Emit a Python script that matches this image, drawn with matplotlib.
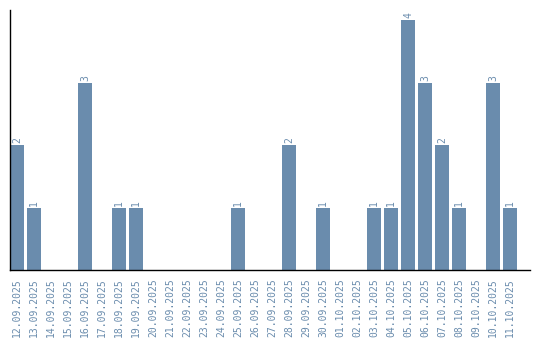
import matplotlib
matplotlib.use("Agg")
import matplotlib.pyplot as plt

dates = ["12.09.2025", "13.09.2025", "14.09.2025", "15.09.2025", "16.09.2025",
         "17.09.2025", "18.09.2025", "19.09.2025", "20.09.2025", "21.09.2025",
         "22.09.2025", "23.09.2025", "24.09.2025", "25.09.2025", "26.09.2025",
         "27.09.2025", "28.09.2025", "29.09.2025", "30.09.2025", "01.10.2025",
         "02.10.2025", "03.10.2025", "04.10.2025", "05.10.2025", "06.10.2025",
         "07.10.2025", "08.10.2025", "09.10.2025", "10.10.2025", "11.10.2025"]
values = [2, 1, 0, 0, 3, 0, 1, 1, 0, 0, 0, 0, 0, 1, 0, 0, 2, 0, 1, 0,
          0, 1, 1, 4, 3, 2, 1, 0, 3, 1]

color = "#6a8cad"
fig = plt.figure(figsize=(5.4, 3.4), dpi=100)
ax = fig.add_axes([10/540, 70/340, 520/540, 260/340])
x = list(range(len(dates)))
ax.bar(x, values, width=0.82, color=color)
for xi, v in zip(x, values):
    if v > 0:
        ax.text(xi, v + 0.03, str(v), rotation=90, ha="center", va="bottom",
                color=color, fontsize=7, family="DejaVu Sans Mono")
ax.set_xlim(-0.41, 30.17)
ax.set_ylim(0, 4.16)
ax.set_xticks(x)
ax.set_xticklabels(dates, rotation=90, color=color, fontsize=7, family="DejaVu Sans Mono")
ax.tick_params(axis="x", length=0, pad=6)
ax.set_yticks([])
for s in ["top", "right"]:
    ax.spines[s].set_visible(False)
for s in ["left", "bottom"]:
    ax.spines[s].set_linewidth(1.0)
    ax.spines[s].set_color("black")
fig.savefig("out.png", dpi=100)
